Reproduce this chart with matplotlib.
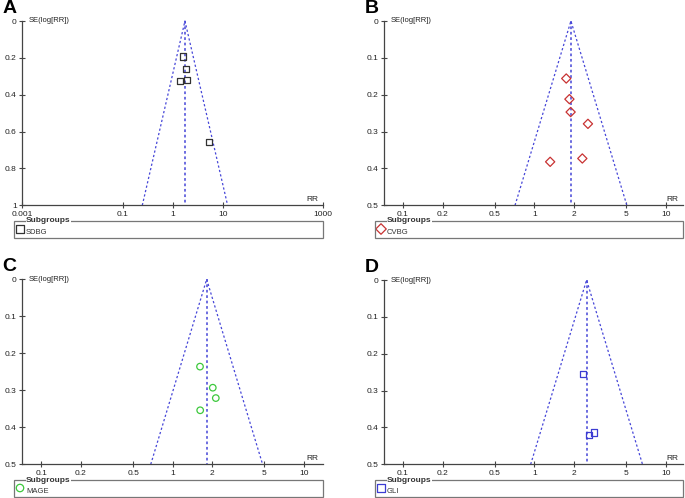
import numpy as np
import matplotlib
matplotlib.use('Agg')
import matplotlib.pyplot as plt
from matplotlib.patches import Rectangle

plt.rcParams['font.family'] = ['Liberation Sans', 'DejaVu Sans']

# --- data (RR, SE of log RR) ---
sdbg_rr = [1.58, 1.82, 1.38, 1.94, 5.25]
sdbg_se = [0.193, 0.260, 0.327, 0.322, 0.656]
sdbg_pooled = 1.76

cvbg_rr = [1.75, 1.85, 1.89, 2.56, 2.32, 1.32]
cvbg_se = [0.156, 0.212, 0.247, 0.279, 0.373, 0.382]
cvbg_pooled = 1.90

mage_rr = [1.615, 2.02, 2.13, 1.62]
mage_se = [0.236, 0.293, 0.321, 0.354]
mage_pooled = 1.815

gli_rr = [2.35, 2.62, 2.85]
gli_se = [0.256, 0.420, 0.414]
gli_pooled = 2.50

ticks_wide = [0.001, 0.1, 1, 10, 1000]
ticks_narrow = [0.1, 0.2, 0.5, 1, 2, 5, 10]
tick_labels_wide = ['0.001', '0.1', '1', '10', '1000']
tick_labels_narrow = ['0.1', '0.2', '0.5', '1', '2', '5', '10']

W, H = 685, 498
fig = plt.figure(figsize=(W / 100, H / 100), dpi=100)

funnel_col = '#4646d8'
axis_col = '#444444'


def px_axes(l, t, r, b):
    return fig.add_axes([l / W, 1 - b / H, (r - l) / W, (b - t) / H])


def funnel_panel(box, xlim, ymax, yticks, xticks, xlabels, rr, se, pooled,
                 marker, mcolor, msize, name, letter, legend_box):
    l, t, r, b = box
    ax = px_axes(l, t, r, b)
    ax.set_xscale('log')
    ax.set_xlim(*xlim)
    ax.set_ylim(ymax, 0)
    ax.set_facecolor('none')

    # funnel
    lo = pooled * np.exp(-1.96 * ymax)
    hi = pooled * np.exp(1.96 * ymax)
    ax.plot([lo, pooled, hi], [ymax, 0, ymax], color=funnel_col, lw=0.9,
            ls=(0, (1.8, 1.8)), clip_on=False)
    ax.plot([pooled, pooled], [0, ymax], color=funnel_col, lw=1.3,
            ls=(0, (1.5, 1.5)), alpha=0.85, clip_on=False)

    ax.scatter(rr, se, marker=marker, s=msize, facecolors='none',
               edgecolors=mcolor, linewidths=0.9, zorder=3, clip_on=False)

    for s in ['top', 'right']:
        ax.spines[s].set_visible(False)
    for s in ['left', 'bottom']:
        ax.spines[s].set_color(axis_col)
        ax.spines[s].set_linewidth(0.9)

    ax.set_xticks(xticks)
    ax.set_xticklabels(xlabels)
    ax.xaxis.set_minor_locator(matplotlib.ticker.NullLocator())
    ax.set_yticks(yticks)
    ax.set_yticklabels([('%g' % v) for v in yticks])
    ax.tick_params(direction='inout', length=5, width=0.8, color=axis_col,
                   labelsize=6, labelcolor='#222222', pad=1.5)

    ax.text(0.02, 1.0, 'SE(log[RR])', transform=ax.transAxes, fontsize=5.5,
            va='center', ha='left', color='#222222')
    ax.text(0.985, 0.01, 'RR', transform=ax.transAxes, fontsize=6,
            va='bottom', ha='right', color='#222222')

    # panel letter
    fig.text((l - 20) / W, 1 - (t - 12.5) / H, letter, fontsize=14,
             fontweight='bold', va='center', ha='left')

    # legend group box
    bl, bt, br, bb = legend_box
    fig.patches.append(Rectangle((bl / W, 1 - bb / H), (br - bl) / W,
                                 (bb - bt) / H, transform=fig.transFigure,
                                 fill=False, edgecolor='#777777', lw=0.9))
    fig.text((bl + 12) / W, 1 - bt / H, 'Subgroups', fontsize=6,
             fontweight='bold', va='center', ha='left', color='#333333',
             bbox=dict(facecolor='white', edgecolor='none', pad=0.3))
    lax = fig.add_axes([0, 0, 1, 1], facecolor='none')
    lax.set_xlim(0, W)
    lax.set_ylim(H, 0)
    lax.axis('off')
    lax.scatter([bl + 6], [bt + 8], marker=marker, s=msize * 1.3,
                facecolors='none', edgecolors=mcolor, linewidths=0.9)
    fig.text((bl + 12) / W, 1 - (bt + 11) / H, name, fontsize=5.5,
             va='center', ha='left', color='#333333')
    return ax


funnel_panel((22.3, 21, 323, 205.3), (0.001, 1000), 1.0,
             [0, 0.2, 0.4, 0.6, 0.8, 1], ticks_wide, tick_labels_wide,
             sdbg_rr, sdbg_se, sdbg_pooled, 's', '#333333', 20, 'SDBG', 'A',
             (14, 221, 323, 238))

funnel_panel((384.3, 21, 683, 205.3), (0.0721, 13.55), 0.5,
             [0, 0.1, 0.2, 0.3, 0.4, 0.5], ticks_narrow, tick_labels_narrow,
             cvbg_rr, cvbg_se, cvbg_pooled, 'D', '#c83232', 22, 'CVBG', 'B',
             (375, 221, 683, 238))

funnel_panel((22.3, 279.3, 322.7, 464.3), (0.0717, 13.87), 0.5,
             [0, 0.1, 0.2, 0.3, 0.4, 0.5], ticks_narrow, tick_labels_narrow,
             mage_rr, mage_se, mage_pooled, 'o', '#3cc83c', 22, 'MAGE', 'C',
             (14, 480, 323, 497))

funnel_panel((384.3, 280, 683, 464.3), (0.0721, 13.55), 0.5,
             [0, 0.1, 0.2, 0.3, 0.4, 0.5], ticks_narrow, tick_labels_narrow,
             gli_rr, gli_se, gli_pooled, 's', '#3c3cd2', 20, 'GLI', 'D',
             (375, 480, 683, 497))

fig.savefig('out.png', dpi=100)
